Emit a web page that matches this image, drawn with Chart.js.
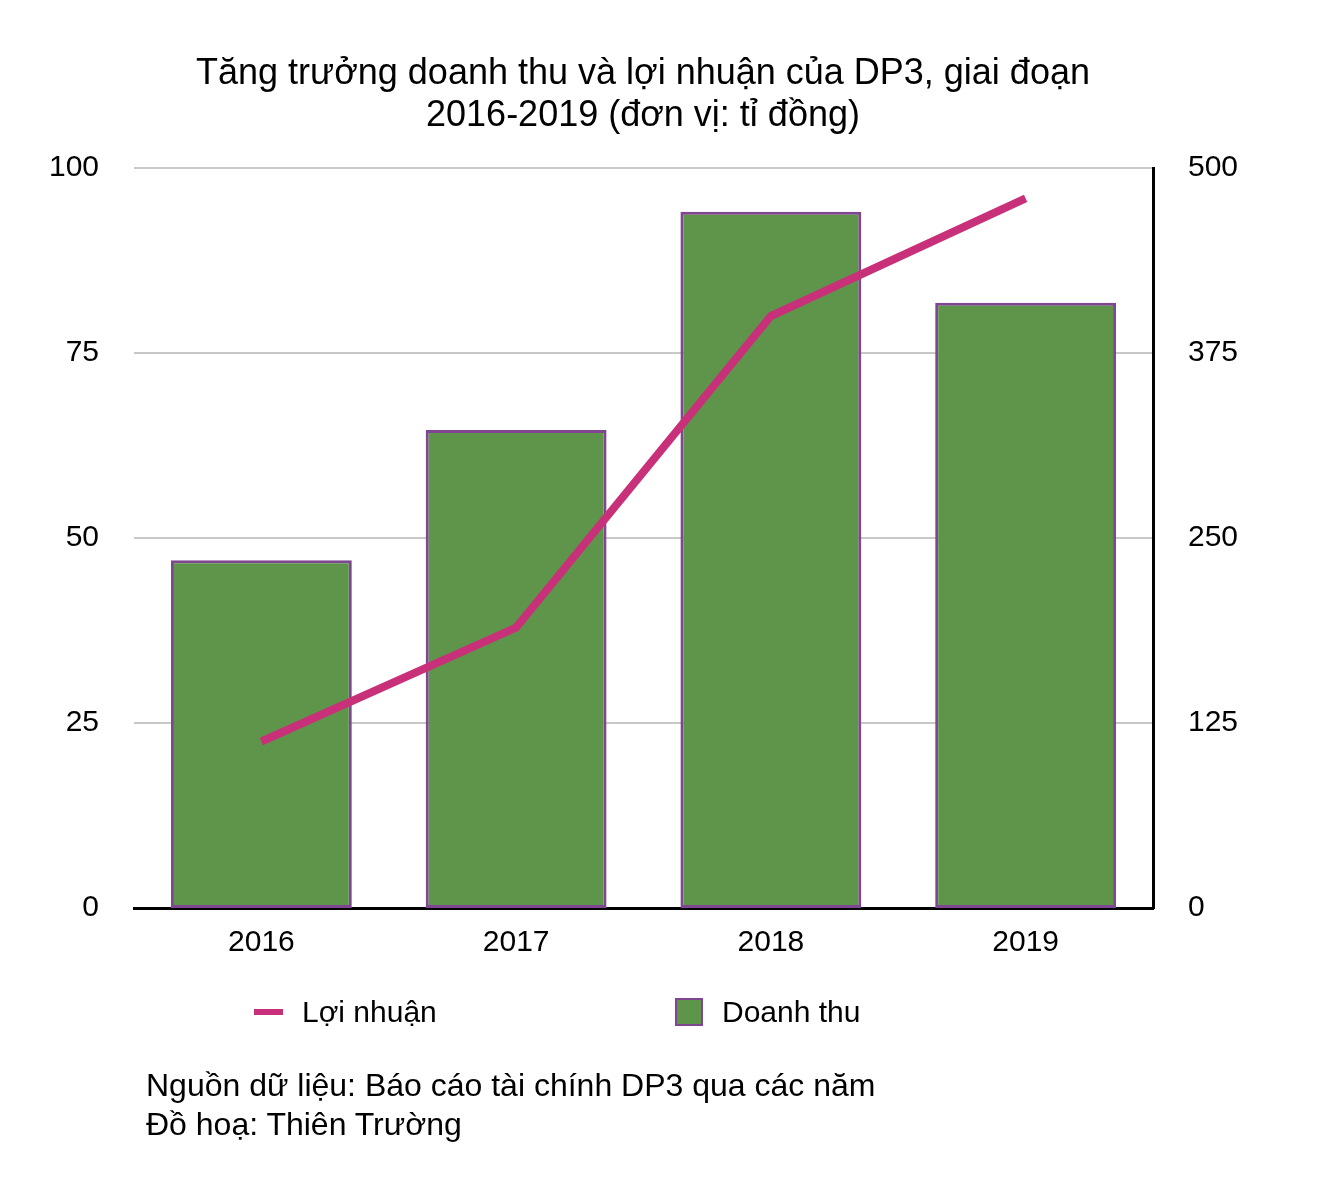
<!DOCTYPE html>
<html>
<head>
<meta charset="utf-8">
<script src="https://cdn.jsdelivr.net/npm/chart.js@4.4.1/dist/chart.umd.min.js"></script>
<style>
  html, body { margin: 0; padding: 0; background: #fff; }
  body { width: 1334px; height: 1186px; position: relative; overflow: hidden;
         font-family: "Liberation Sans", Arial, Helvetica, sans-serif; color: #000; }
  #chart { position: absolute; left: 0; top: 0; }
  #title { position: absolute; left: 0; width: 1286px; top: 51px; text-align: center;
           font-size: 36px; line-height: 42px; }
  .leg { position: absolute; top: 993px; font-size: 30px; line-height: 38px; }
  .leg .line { position: absolute; left: 0; top: 16px; width: 29px; height: 6px; background: #C9307A; }
  .leg .box { position: absolute; left: 0; top: 5px; width: 24px; height: 24px;
              background: #5F954B; border: 2px solid #7F4791; }
  #src { position: absolute; left: 146px; top: 1066px; font-size: 32px; line-height: 39px; }
</style>
</head>
<body>
<canvas id="chart" width="1334" height="1186"></canvas>
<div id="title">Tăng trưởng doanh thu và lợi nhuận của DP3, giai đoạn<br>2016-2019 (đơn vị: tỉ đồng)</div>
<div class="leg" style="left:254px"><span class="line"></span><span style="margin-left:48px">Lợi nhuận</span></div>
<div class="leg" style="left:675px"><span class="box"></span><span style="margin-left:47px">Doanh thu</span></div>
<div id="src">Nguồn dữ liệu: Báo cáo tài chính DP3 qua các năm<br>Đồ hoạ: Thiên Trường</div>

<script>
//-----------------------------------------
// DATA
//-----------------------------------------
const years = ["2016", "2017", "2018", "2019"];

// Doanh thu (right axis, bars)
const revenue = [235, 323, 470.5, 409];

// Loi nhuan (left axis, line)
const profit = [22.5, 37.9, 80, 95.9];

const leftTicks = [0, 25, 50, 75, 100];
const rightTicks = [0, 125, 250, 375, 500];

const tickFont = { family: "'Liberation Sans', Arial, sans-serif", size: 30 };


//-----------------------------------------
// CHART
//-----------------------------------------
const ctx = document.getElementById("chart");

new Chart(ctx, {
  data: {
    labels: years,
    datasets: [
      {
        type: "line",
        label: "Lợi nhuận",
        data: profit,
        yAxisID: "yLeft",
        borderColor: "#C9307A",
        borderWidth: 8,
        pointRadius: 0,
        tension: 0,
        order: 0
      },
      {
        type: "bar",
        label: "Doanh thu",
        data: revenue,
        yAxisID: "yRight",
        backgroundColor: "#5F954B",
        borderColor: "#7F4791",
        borderWidth: 3,
        borderSkipped: false,
        barPercentage: 0.71,
        categoryPercentage: 1,
        order: 1
      }
    ]
  },
  options: {
    responsive: false,
    animation: false,
    devicePixelRatio: 1,
    layout: { padding: { top: 168, left: 0, right: 0, bottom: 0 } },
    plugins: {
      legend: { display: false },
      tooltip: { enabled: false }
    },
    scales: {
      x: {
        grid: { display: false, drawTicks: false },
        border: { color: "#000", width: 3 },
        ticks: { color: "#000", font: tickFont, padding: 17 },
        afterFit: s => { s.height = 278; }
      },
      yLeft: {
        position: "left",
        min: 0,
        max: 100,
        afterBuildTicks: s => { s.ticks = leftTicks.map(v => ({ value: v })); },
        grid: { color: "#C8C8C8", lineWidth: 2, drawTicks: false },
        border: { display: false },
        ticks: { color: "#000", font: tickFont, padding: 35 },
        afterFit: s => { s.width = 134; }
      },
      yRight: {
        position: "right",
        min: 0,
        max: 500,
        afterBuildTicks: s => { s.ticks = rightTicks.map(v => ({ value: v })); },
        grid: { display: false, drawTicks: false },
        border: { color: "#000", width: 3 },
        ticks: { color: "#000", font: tickFont, padding: 35 },
        afterFit: s => { s.width = 181; }
      }
    }
  }
});
</script>
</body>
</html>
